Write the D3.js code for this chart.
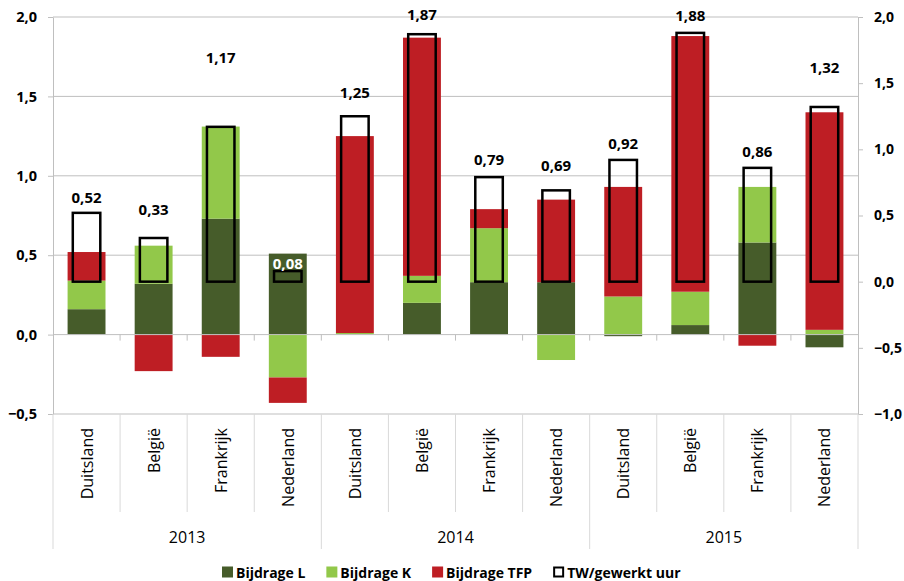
<!DOCTYPE html>
<html><head><meta charset="utf-8">
<script src="https://cdn.jsdelivr.net/npm/d3@7"></script>
<style>body{margin:0;background:#fff} svg{display:block;font-family:"Open Sans",sans-serif}</style>
</head><body><svg id="c" width="904" height="581"></svg>
<script>
const years = ["2013","2014","2015"];
const countries = ["Duitsland","België","Frankrijk","Nederland"];
const bijdrageL   = [0.16, 0.32, 0.73, 0.51,  0.00, 0.20, 0.33, 0.33,  -0.01, 0.06, 0.58, -0.08];
const bijdrageK   = [0.18, 0.24, 0.58, -0.27, 0.01, 0.17, 0.34, -0.16, 0.24, 0.21, 0.35, 0.03];
const bijdrageTFP = [0.18, -0.23, -0.14, -0.16, 1.24, 1.50, 0.12, 0.52, 0.69, 1.61, -0.07, 1.37];
const twPerUur    = [0.52, 0.33, 1.17, 0.08, 1.25, 1.87, 0.79, 0.69, 0.92, 1.88, 0.86, 1.32];
const leftTicks  = [-0.5, 0, 0.5, 1, 1.5, 2];
const rightTicks = [-1, -0.5, 0, 0.5, 1, 1.5, 2];
const seriesNames = ["Bijdrage L", "Bijdrage K", "Bijdrage TFP", "TW/gewerkt uur"];

// presentation
const colors = {L:"#465C2A", K:"#92C84A", TFP:"#BE1E24"};
const labelLift = [16, 29, 70, 8, 24, 20, 18, 25, 17, 18, 17, 40];

const loc = d3.formatLocale({decimal:",", thousands:".", grouping:[3], currency:["€",""]});
const f1 = loc.format(".1f"), f2 = loc.format(".2f");

const Lx = 53, Rx = 858, T = 17, B = 414;
const svg = d3.select("#c");
const n = years.length * countries.length;
const idx = d3.range(n);
const x = d3.scaleBand().domain(idx).range([Lx, Rx]);
const bw = x.bandwidth();
const barW = bw * 0.565, boxW = bw * 0.41;
const yL = d3.scaleLinear().domain([-0.5, 2]).range([B, T]);
const yR = d3.scaleLinear().domain([-1, 2]).range([B, T]);

// gridlines
svg.append("g").selectAll("line").data(leftTicks.filter(t => t !== 0)).join("line")
  .attr("x1", Lx).attr("x2", Rx).attr("y1", d => yL(d)).attr("y2", d => yL(d))
  .attr("stroke", "#BFBFBF").attr("stroke-width", 1);

// left axis
const gl = svg.append("g").attr("transform", `translate(${Lx},0)`)
  .call(d3.axisLeft(yL).tickValues(leftTicks).tickSize(5).tickSizeOuter(0).tickPadding(11).tickFormat(f1));
gl.select(".domain").attr("stroke", "#BFBFBF");
gl.selectAll(".tick line").attr("stroke", "#BFBFBF");
gl.selectAll("text").attr("font-size", 14.5).attr("font-weight", "bold").attr("fill", "#000").attr("font-family", "Open Sans");

// right axis
const gr = svg.append("g").attr("transform", `translate(${Rx},0)`)
  .call(d3.axisRight(yR).tickValues(rightTicks).tickSize(5).tickSizeOuter(0).tickPadding(11).tickFormat(f1));
gr.select(".domain").attr("stroke", "#BFBFBF");
gr.selectAll(".tick line").attr("stroke", "#BFBFBF");
gr.selectAll("text").attr("font-size", 14).attr("font-weight", "bold").attr("fill", "#000").attr("font-family", "Open Sans");

// stacked bars
const rows = idx.map(i => ({i, L: bijdrageL[i], K: bijdrageK[i], TFP: bijdrageTFP[i]}));
const stacked = d3.stack().keys(["L", "K", "TFP"]).offset(d3.stackOffsetDiverging)(rows);
svg.append("g").selectAll("g").data(stacked).join("g").attr("fill", s => colors[s.key])
  .selectAll("rect").data(s => s).join("rect")
  .attr("x", d => x(d.data.i) + (bw - barW) / 2).attr("width", barW)
  .attr("y", d => yL(Math.max(d[0], d[1])))
  .attr("height", d => Math.abs(yL(d[0]) - yL(d[1])));

// zero axis with ticks
const y0 = yL(0);
svg.append("line").attr("x1", Lx).attr("x2", Rx).attr("y1", y0).attr("y2", y0).attr("stroke", "#BFBFBF");
svg.append("g").selectAll("line").data(d3.range(1, n)).join("line")
  .attr("x1", d => x(d)).attr("x2", d => x(d)).attr("y1", y0).attr("y2", y0 + 6).attr("stroke", "#BFBFBF");

// TW boxes
svg.append("g").selectAll("rect").data(twPerUur).join("rect")
  .attr("x", (d, i) => x(i) + (bw - boxW) / 2).attr("width", boxW)
  .attr("y", d => yR(d)).attr("height", d => yR(0) - yR(d))
  .attr("fill", "none").attr("stroke", "#000").attr("stroke-width", 2.5);

// data labels
svg.append("g").selectAll("text").data(twPerUur).join("text")
  .attr("x", (d, i) => x(i) + bw / 2).attr("y", (d, i) => yR(d) - labelLift[i])
  .attr("text-anchor", "middle").attr("dominant-baseline", "central")
  .attr("font-size", 15).attr("font-weight", "bold")
  .attr("fill", d => d < 0.2 ? "#fff" : "#000").text(d => f2(d));

// category label area separators
const sep = svg.append("g").attr("stroke", "#D9D9D9");
d3.range(0, n + 1).forEach(k => {
  const xx = k === n ? Rx : x(k);
  const major = k % countries.length === 0;
  sep.append("line").attr("x1", xx).attr("x2", xx).attr("y1", B).attr("y2", major ? 549 : 512);
});

// country labels
svg.append("g").selectAll("text").data(idx).join("text")
  .attr("transform", i => `translate(${x(i) + bw / 2},428) rotate(-90)`)
  .attr("text-anchor", "end").attr("dominant-baseline", "central")
  .attr("font-size", 16).attr("fill", "#000")
  .text(i => countries[i % countries.length]);

// year labels
svg.append("g").selectAll("text").data(years).join("text")
  .attr("x", (d, j) => (x(j * 4) + x(j * 4 + 3) + bw) / 2).attr("y", 537)
  .attr("text-anchor", "middle").attr("dominant-baseline", "central")
  .attr("font-size", 16).attr("fill", "#000").text(d => d);

// legend
const lg = svg.append("g");
let lx = 222;
const ly = 572;
const swatch = [colors.L, colors.K, colors.TFP, null];
seriesNames.forEach((name, k) => {
  const r = lg.append("rect").attr("x", lx).attr("y", ly - 5.5).attr("width", 11).attr("height", 11);
  if (swatch[k]) r.attr("fill", swatch[k]); else r.attr("x", lx + 1).attr("y", ly - 4.5).attr("width", 9).attr("height", 9).attr("fill", "none").attr("stroke", "#000").attr("stroke-width", 2);
  const t = lg.append("text").attr("x", lx + 14).attr("y", ly).attr("dominant-baseline", "central")
    .attr("font-size", 14).attr("font-weight", "bold").attr("fill", "#000").text(name);
  lx += 14 + t.node().getComputedTextLength() + 21;
});
</script>
</body></html>
